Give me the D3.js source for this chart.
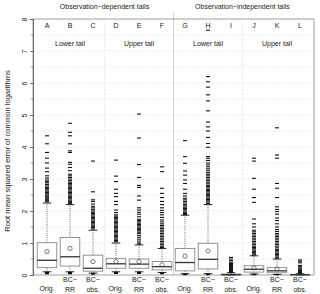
<!DOCTYPE html>
<html>
<head>
<meta charset="utf-8">
<script src="https://cdn.jsdelivr.net/npm/d3@7"></script>
<style>
  body { margin: 0; background: #fff; }
  text { font-family: "Liberation Sans", Arial, sans-serif; fill: #222; }
</style>
</head>
<body>
<div id="chart"></div>
<script>
// box ids and x labels
const ids = ['A','B','C','D','E','F','G','H','I','J','K','L'];
const xLabels = [['Orig.'],['BC\u2212','RR'],['BC\u2212','obs.'],['Orig.'],['BC\u2212','RR'],['BC\u2212','obs.'],
                 ['Orig.'],['BC\u2212','RR'],['BC\u2212','obs.'],['Orig.'],['BC\u2212','RR'],['BC\u2212','obs.']];

// box statistics
const whiskerLow  = [0.10, 0.10, 0.06, 0.10, 0.10, 0.08, 0.04, 0.04, 0.00, 0.03, 0.02, 0.00];
const q1          = [0.23, 0.28, 0.12, 0.21, 0.21, 0.16, 0.13, 0.19, 0.005, 0.09, 0.07, 0.003];
const medians     = [0.46, 0.57, 0.21, 0.35, 0.34, 0.26, 0.39, 0.49, 0.01, 0.18, 0.13, 0.008];
const q3          = [1.01, 1.17, 0.62, 0.52, 0.50, 0.42, 0.83, 0.99, 0.03, 0.29, 0.23, 0.02];
const whiskerHigh = [2.25, 2.20, 1.40, 1.00, 0.94, 0.83, 1.87, 2.20, 0.07, 0.60, 0.50, 0.04];
const means       = [0.73, 0.83, 0.42, 0.42, 0.42, 0.32, 0.59, 0.75, null, 0.22, 0.19, null];

const outliersA = [4.35, 4.1, 3.83, 3.65, 3.5, 3.34, 3.23, 3.1, 3.03, 2.97, 2.92, 2.88, 2.83, 2.78, 2.74, 2.7, 2.66,
                   2.62, 2.58, 2.54, 2.5, 2.47, 2.44, 2.41, 2.38, 2.35, 2.32, 2.29, 0.08, 0.07, 0.06, 0.05, 0.04];
const outliersB = [4.74, 4.46, 4.35, 4.1, 3.88, 3.83, 3.52, 3.46, 3.36, 3.26, 3.15, 3.1, 3.05, 3.0, 2.95, 2.9, 2.86,
                   2.82, 2.78, 2.74, 2.7, 2.66, 2.62, 2.58, 2.54, 2.5, 2.46, 2.42, 2.38, 2.34, 2.3, 2.26, 2.23,
                   0.08, 0.07, 0.06, 0.05, 0.04];
const outliersC = [3.56, 2.6, 2.35, 2.3, 2.22, 2.15, 2.1, 2.05, 2.0, 1.96, 1.92, 1.88, 1.84, 1.8, 1.76, 1.72, 1.68,
                   1.64, 1.6, 1.56, 1.52, 1.48, 1.44, 0.05, 0.04, 0.03];
const outliersD = [3.59, 3.09, 2.92, 2.68, 2.55, 2.45, 2.3, 2.2, 2.03, 1.95, 1.88, 1.84, 1.8, 1.76, 1.72, 1.68, 1.64,
                   1.6, 1.56, 1.52, 1.48, 1.44, 1.4, 1.36, 1.32, 1.28, 1.24, 1.2, 1.16, 1.12, 1.08, 1.04,
                   0.08, 0.07, 0.06, 0.05];
const outliersE = [5.03, 4.28, 3.45, 3.05, 2.8, 2.74, 2.47, 2.34, 2.1, 2.03, 1.96, 1.9, 1.82, 1.74, 1.7, 1.66, 1.62,
                   1.58, 1.54, 1.5, 1.46, 1.42, 1.38, 1.34, 1.3, 1.24, 1.18, 1.12, 1.06, 1.0, 0.97,
                   0.08, 0.07, 0.06, 0.05];
const outliersF = [3.38, 3.23, 2.71, 2.55, 2.42, 2.3, 2.2, 2.1, 2.02, 1.95, 1.88, 1.8, 1.72, 1.66, 1.6, 1.55, 1.5,
                   1.45, 1.4, 1.35, 1.3, 1.25, 1.2, 1.15, 1.1, 1.05, 1.0, 0.95, 0.9, 0.86, 0.06, 0.05, 0.04];
const outliersG = [4.2, 3.7, 3.49, 3.25, 3.12, 2.97, 2.86, 2.68, 2.55, 2.47, 2.4, 2.35, 2.3, 2.25, 2.2, 2.16, 2.12,
                   2.08, 2.04, 2.0, 1.96, 1.92, 1.89, 0.03, 0.02, 0.01];
const outliersH = [7.65, 6.2, 6.04, 5.87, 5.63, 5.44, 5.13, 4.78, 4.63, 4.5, 4.3, 4.11, 3.99, 3.7, 3.65, 3.58, 3.5,
                   3.44, 3.38, 3.32, 3.26, 3.2, 3.15, 3.1, 3.05, 3.0, 2.95, 2.9, 2.85, 2.8, 2.76, 2.72, 2.68,
                   2.64, 2.6, 2.56, 2.52, 2.48, 2.44, 2.4, 2.36, 2.32, 2.28, 2.24, 0.03, 0.02, 0.01];
const outliersI = [0.55, 0.5, 0.45, 0.4, 0.36, 0.33, 0.3, 0.27, 0.24, 0.22, 0.2, 0.18, 0.16, 0.14, 0.12, 0.1, 0.09, 0.08];
const outliersJ = [3.65, 3.56, 3.02, 2.68, 2.42, 2.27, 1.75, 1.6, 1.5, 1.4, 1.35, 1.3, 1.25, 1.2, 1.15, 1.1, 1.05,
                   1.0, 0.95, 0.9, 0.86, 0.82, 0.78, 0.74, 0.7, 0.66, 0.63, 0.02, 0.01];
const outliersK = [4.6, 3.75, 3.65, 2.86, 2.71, 2.42, 2.13, 2.05, 1.98, 1.9, 1.78, 1.7, 1.6, 1.5, 1.42, 1.36, 1.3,
                   1.25, 1.2, 1.15, 1.1, 1.05, 1.0, 0.95, 0.9, 0.85, 0.8, 0.76, 0.72, 0.68, 0.64, 0.6, 0.56, 0.53,
                   0.015, 0.01];
const outliersL = [0.47, 0.43, 0.38, 0.3, 0.26, 0.22, 0.19, 0.16, 0.14, 0.12, 0.1, 0.08, 0.07, 0.06, 0.05];

const outliers = [outliersA, outliersB, outliersC, outliersD, outliersE, outliersF,
                  outliersG, outliersH, outliersI, outliersJ, outliersK, outliersL];

const groupTitles = ['Observation\u2212dependent tails', 'Observation\u2212independent tails'];
const tailLabels = ['Lower tail', 'Upper tail', 'Lower tail', 'Upper tail'];
const yTicks = [0, 1, 2, 3, 4, 5, 6, 7, 8];

const width = 320, height = 294;
const margin = {top: 19, right: 6, bottom: 19, left: 33};

const boxes = ids.map((id, i) => ({
    id: id, lo: whiskerLow[i], q1: q1[i], med: medians[i], q3: q3[i], hi: whiskerHigh[i],
    mean: means[i], out: outliers[i], label: xLabels[i]
}));

const svg = d3.select('#chart').append('svg').attr('width', width).attr('height', height);

const y = d3.scaleLinear()
    .domain([0, 8])
    .range([height - margin.bottom, margin.top]);

const x = d3.scaleBand()
    .domain(ids)
    .range([35.5, 311.5])
    .paddingInner(0.15)
    .paddingOuter(0.075);

const cx = (id) => x(id) + x.bandwidth() / 2;
const step = x.step();

// grid
const gridVals = d3.range(1, 16).map((d) => d * 0.5);
svg.append('g').selectAll('line').data(gridVals).enter().append('line')
    .attr('x1', margin.left).attr('x2', width - margin.right)
    .attr('y1', (d) => y(d)).attr('y2', (d) => y(d))
    .attr('stroke', '#d8d8d8').attr('stroke-width', 0.8).attr('stroke-dasharray', '1,1.5');

// vertical separators (tail groups dotted, main split solid)
[['C', 'D'], ['I', 'J']].forEach((p) => {
    const xv = (cx(p[0]) + cx(p[1])) / 2;
    svg.append('line').attr('x1', xv).attr('x2', xv).attr('y1', y(8)).attr('y2', y(0))
        .attr('stroke', '#d0d0d0').attr('stroke-width', 0.8).attr('stroke-dasharray', '1,1.5');
});
const xSplit = (cx('F') + cx('G')) / 2;
svg.append('line').attr('x1', xSplit).attr('x2', xSplit).attr('y1', 13).attr('y2', y(0))
    .attr('stroke', '#c8c8c8').attr('stroke-width', 0.8);

// frame
svg.append('rect')
    .attr('x', margin.left).attr('y', margin.top)
    .attr('width', width - margin.left - margin.right)
    .attr('height', height - margin.top - margin.bottom)
    .attr('fill', 'none').attr('stroke', '#888').attr('stroke-width', 0.8);

// y axis
const yAxis = d3.axisLeft(y).tickValues(yTicks).tickSize(3).tickPadding(3).tickFormat(d3.format('d'));
const yAxisG = svg.append('g').attr('transform', 'translate(' + margin.left + ',0)').call(yAxis);
yAxisG.select('.domain').attr('stroke', '#555').attr('stroke-width', 0.8);
yAxisG.selectAll('.tick line').attr('stroke', '#555').attr('stroke-width', 0.8);
yAxisG.selectAll('.tick text')
    .attr('font-size', 7).attr('fill', '#222')
    .attr('transform', (d) => 'rotate(-90,' + (-8) + ',' + 0 + ')')
    .attr('x', -8).attr('dy', '0.32em').attr('text-anchor', 'middle');
const minorG = svg.append('g').attr('transform', 'translate(' + margin.left + ',0)');
minorG.selectAll('line').data(d3.range(0, 8).map((d) => d + 0.5)).enter().append('line')
    .attr('x1', -1.8).attr('x2', 0).attr('y1', (d) => y(d)).attr('y2', (d) => y(d))
    .attr('stroke', '#555').attr('stroke-width', 0.8);

// y title
svg.append('text')
    .attr('transform', 'translate(10,' + (y(4) + 4) + ') rotate(-90)')
    .attr('text-anchor', 'middle').attr('font-size', 7.6)
    .text('Root mean squared error of common logarithms');

// group titles and letters
svg.append('text').attr('x', (cx('A') + cx('F')) / 2).attr('y', 9).attr('text-anchor', 'middle')
    .attr('font-size', 7).text(groupTitles[0]);
svg.append('text').attr('x', (cx('G') + cx('L')) / 2).attr('y', 9).attr('text-anchor', 'middle')
    .attr('font-size', 7).text(groupTitles[1]);
[['B', 0], ['E', 1], ['H', 2], ['K', 3]].forEach((p) => {
    svg.append('text').attr('x', cx(p[0])).attr('y', 46).attr('text-anchor', 'middle')
        .attr('font-size', 7).text(tailLabels[p[1]]);
});

const chartGroup = svg.append('g');
const bx = chartGroup.selectAll('g.box').data(boxes).enter().append('g').attr('class', 'box');

bx.append('text').attr('x', (d) => cx(d.id)).attr('y', 27.5).attr('text-anchor', 'middle')
    .attr('font-size', 7).text((d) => d.id);

// whiskers
bx.append('line').attr('x1', (d) => cx(d.id)).attr('x2', (d) => cx(d.id))
    .attr('y1', (d) => y(d.q3)).attr('y2', (d) => y(d.hi))
    .attr('stroke', '#444').attr('stroke-width', 0.8).attr('stroke-dasharray', '1,1.2');
bx.append('line').attr('x1', (d) => cx(d.id)).attr('x2', (d) => cx(d.id))
    .attr('y1', (d) => y(d.q1)).attr('y2', (d) => y(d.lo))
    .attr('stroke', '#444').attr('stroke-width', 0.8).attr('stroke-dasharray', '1,1.2');
const capW = x.bandwidth() * 0.22;
['hi', 'lo'].forEach((k) => {
    bx.append('line').attr('x1', (d) => cx(d.id) - capW).attr('x2', (d) => cx(d.id) + capW)
        .attr('y1', (d) => y(d[k])).attr('y2', (d) => y(d[k]))
        .attr('stroke', '#222').attr('stroke-width', 1);
});

// outliers as short dashes
bx.each(function (d) {
    d3.select(this).selectAll('line.out').data(d.out).enter().append('line').attr('class', 'out')
        .attr('x1', cx(d.id) - 2).attr('x2', cx(d.id) + 2)
        .attr('y1', (v) => y(v)).attr('y2', (v) => y(v))
        .attr('stroke', '#111').attr('stroke-width', 1.1);
});

// boxes
bx.append('rect')
    .attr('x', (d) => x(d.id)).attr('width', x.bandwidth())
    .attr('y', (d) => y(d.q3)).attr('height', (d) => Math.max(0.5, y(d.q1) - y(d.q3)))
    .attr('fill', '#fff').attr('stroke', '#888').attr('stroke-width', 0.9);
bx.append('line').attr('x1', (d) => x(d.id)).attr('x2', (d) => x(d.id) + x.bandwidth())
    .attr('y1', (d) => y(d.med)).attr('y2', (d) => y(d.med))
    .attr('stroke', '#333').attr('stroke-width', 1.3);
bx.filter((d) => d.mean !== null).append('circle')
    .attr('cx', (d) => cx(d.id)).attr('cy', (d) => y(d.mean)).attr('r', 2.1)
    .attr('fill', 'none').attr('stroke', '#444').attr('stroke-width', 0.7);

// x labels
bx.each(function (d) {
    const g = d3.select(this);
    const lines = d.label;
    lines.forEach((t, j) => {
        g.append('text').attr('x', cx(d.id))
            .attr('y', lines.length === 1 ? 291 : 282 + j * 9.5)
            .attr('text-anchor', 'middle').attr('font-size', 7).text(t);
    });
});
</script>
</body>
</html>
